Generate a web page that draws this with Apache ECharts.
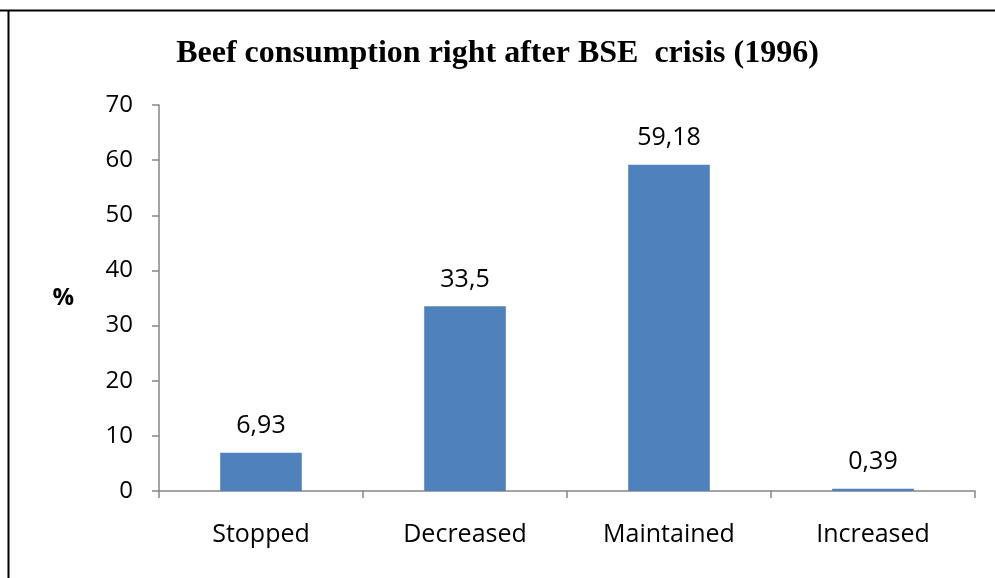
<!DOCTYPE html>
<html><head><meta charset="utf-8">
<script src="https://cdn.jsdelivr.net/npm/echarts@6/dist/echarts.min.js"></script>
<style>html,body{margin:0;padding:0;background:#fff}#c{width:995px;height:578px}</style>
</head><body><div id="c"></div>
<script>
const titleText = 'Beef consumption right after BSE  crisis (1996)';
const categories = ['Stopped', 'Decreased', 'Maintained', 'Increased'];
const values = [6.93, 33.5, 59.18, 0.39];
const yTicks = { min: 0, max: 70, interval: 10 };
const yName = '%';

const chart = echarts.init(document.getElementById('c'));
const axisColor = '#868686';
const labelFont = "'Open Sans', sans-serif";
chart.setOption({
  animation: false,
  title: {
    text: titleText, left: 'center', top: 33,
    textStyle: { fontFamily: "'Liberation Serif', serif", fontWeight: 'bold', fontSize: 32, color: '#000' }
  },
  grid: { left: 159, right: 20, top: 105, bottom: 87 },
  graphic: [
    { type: 'line', shape: { x1: 0, y1: 10.5, x2: 995, y2: 10.5 }, style: { stroke: '#000', lineWidth: 2 } },
    { type: 'line', shape: { x1: 8.5, y1: 10, x2: 8.5, y2: 578 }, style: { stroke: '#000', lineWidth: 2 } }
  ],
  xAxis: {
    type: 'category', data: categories,
    axisLine: { lineStyle: { color: axisColor, width: 1.5 } },
    axisTick: { show: true, length: 7, lineStyle: { color: axisColor, width: 1.5 } },
    axisLabel: { margin: 31, color: '#000', fontSize: 25, fontFamily: labelFont }
  },
  yAxis: {
    type: 'value', min: yTicks.min, max: yTicks.max, interval: yTicks.interval,
    name: yName, nameLocation: 'middle', nameRotate: 0, nameGap: 85,
    nameTextStyle: { fontSize: 24, fontWeight: 'bold', color: '#000', fontFamily: labelFont },
    axisLine: { show: true, lineStyle: { color: axisColor, width: 1.5 } },
    axisTick: { show: true, length: 7, lineStyle: { color: axisColor, width: 1.5 } },
    splitLine: { show: false },
    axisLabel: { margin: 26, color: '#000', fontSize: 24, fontFamily: labelFont }
  },
  series: [{
    type: 'bar', data: values, barWidth: '40%',
    itemStyle: { color: '#4F81BD' },
    label: {
      show: true, position: 'top', distance: 14, color: '#000', fontSize: 25, fontFamily: labelFont,
      formatter: p => String(p.value).replace('.', ',')
    }
  }]
});
</script></body></html>
